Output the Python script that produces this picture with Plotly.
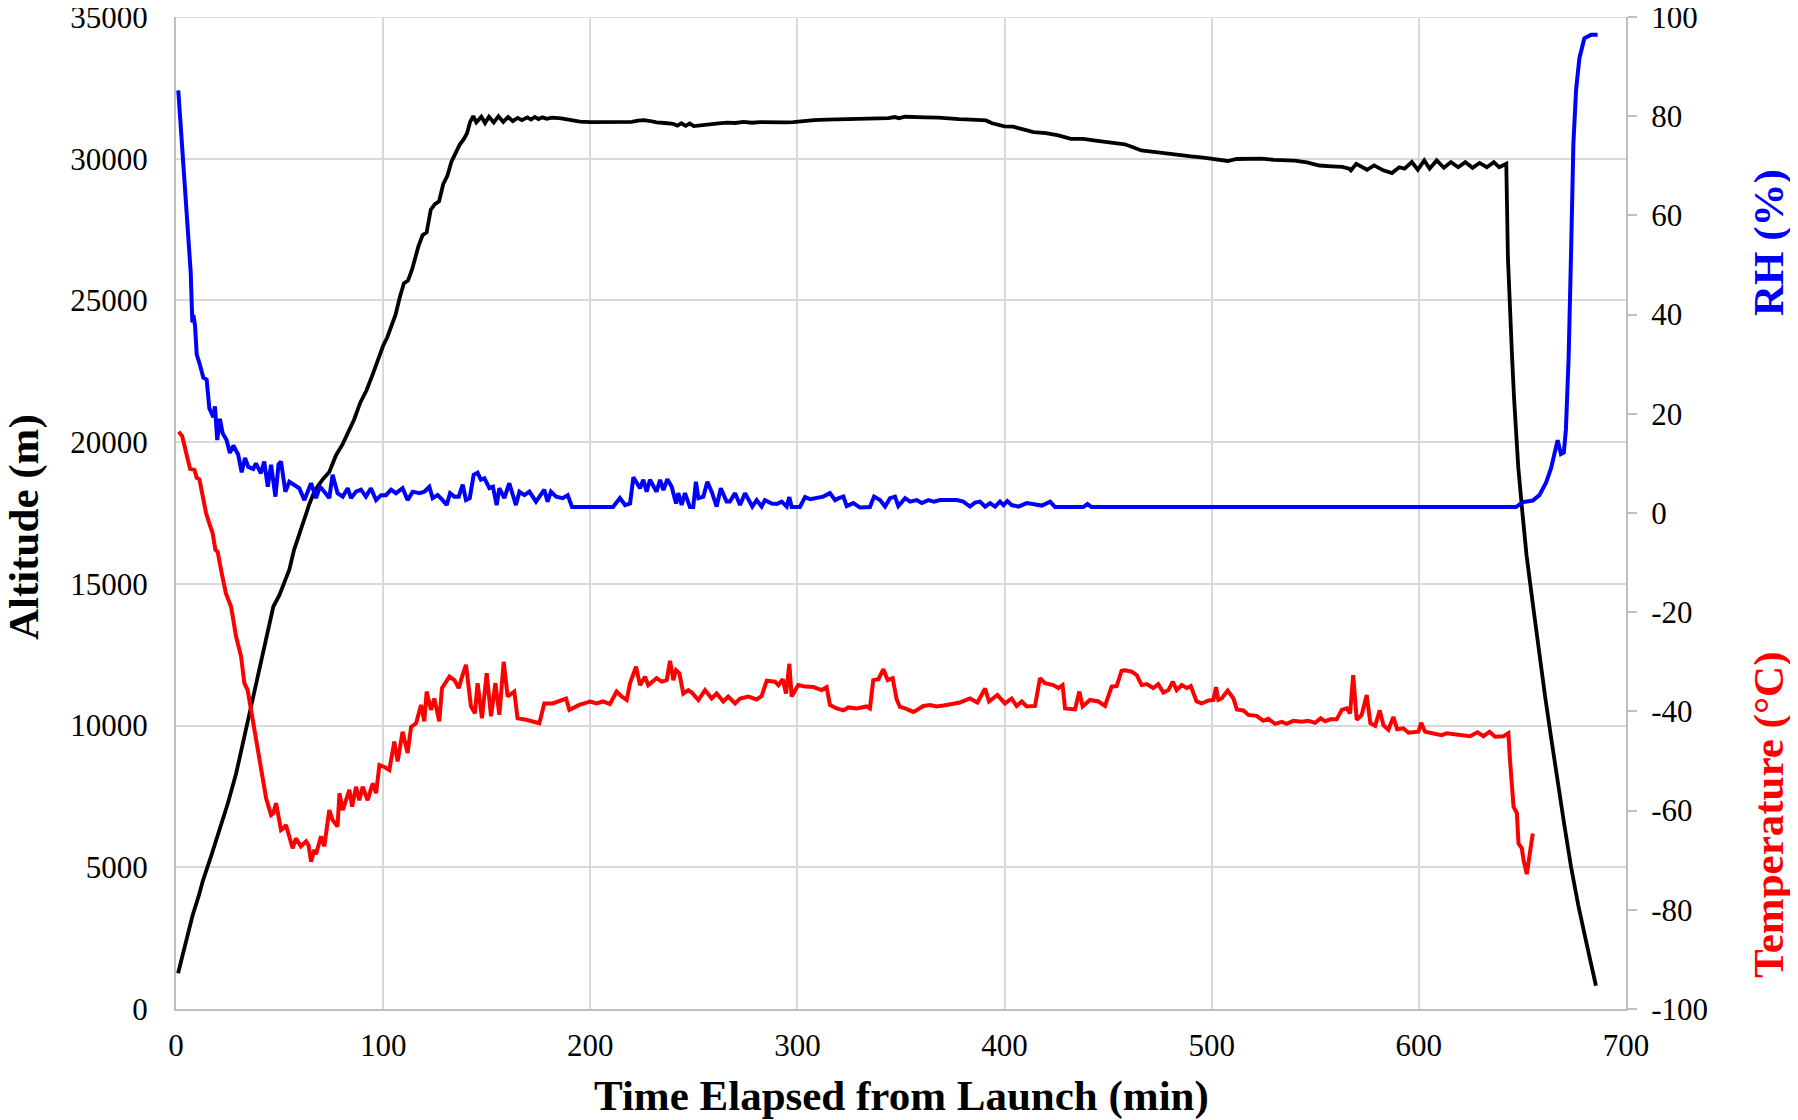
import plotly.graph_objects as go

# ---------------- data ----------------
alt_t = [1, 3, 5, 8, 11, 13, 17, 21, 25, 29, 32, 35.4, 38, 40.2, 43, 45.1, 47, 49.9, 52, 54.7,
         57, 59.5, 62, 64.4, 67, 69.2, 71, 74, 77.2, 80.5, 83.7, 86, 89, 92, 95, 98, 100, 102, 104, 106,
         108, 110, 112, 114, 117, 119, 121, 123, 125, 127, 129, 131, 133, 135, 137, 139, 140.5, 142, 143.5,
         145, 147.4, 149.2, 151.1, 153.4, 155.7, 158, 160.3, 162.6, 164.9, 167, 169.6, 171.4, 173.2, 175,
         176.9, 179, 181.5, 186, 190, 195, 200, 205, 210, 215, 220, 223, 226, 229, 232, 236, 240, 242, 244,
         246, 248, 250, 252, 255, 258, 262, 266, 270, 274, 278, 282, 286, 290, 294, 298, 302, 308, 314, 320,
         326, 332, 338, 344, 347, 349, 352, 356, 362, 368, 372, 378, 384, 388, 391, 394, 397, 400, 404, 408,
         414, 420, 426, 432, 438, 443, 449, 452, 455, 458, 461, 466, 472, 478, 484, 490, 496, 500, 504, 507.8,
         512, 518, 524, 530, 535, 540, 546, 552, 558, 563, 566.4, 567.2, 569.8, 575, 578.4, 582.8, 587, 590.5,
         593.1, 596.6, 599.5, 602.6, 605.2, 608.6, 612.1, 615.5, 619, 622.4, 625.9, 629.3, 632.8, 636.2, 638.8,
         642.2, 643, 644, 645, 646, 647, 648, 650, 652, 655, 658, 661, 664, 667, 670, 673.5, 677, 681, 685.5]
alt_m = [1260, 1850, 2450, 3300, 4000, 4530, 5400, 6300, 7250, 8300, 9300, 10400, 11300, 12060, 13000, 13700,
         14200, 14600, 15000, 15500, 16200, 16760, 17300, 17820, 18300, 18530, 18700, 18950, 19530, 19940, 20470,
         20800, 21400, 21830, 22400, 23000, 23400, 23700, 24150, 24500, 25100, 25600, 25700, 26100, 26900, 27300,
         27400, 28200, 28400, 28500, 29100, 29400, 29900, 30200, 30500, 30700, 30900, 31300, 31500,
         31280, 31480, 31260, 31480, 31280, 31500, 31300, 31470, 31330, 31440, 31360, 31460, 31380, 31470, 31400,
         31460, 31410, 31450, 31420, 31370, 31310, 31290, 31300, 31290, 31300, 31300, 31340, 31360, 31330, 31280,
         31260, 31230, 31170, 31250, 31160, 31240, 31150, 31170, 31190, 31230, 31250, 31270, 31260, 31300, 31270,
         31290, 31280, 31300, 31280, 31290, 31330, 31360, 31380, 31390, 31400, 31410, 31420, 31430, 31470, 31430,
         31480, 31460, 31460, 31450, 31420, 31400, 31380, 31370, 31350, 31250, 31180, 31140, 31130, 31060, 30940,
         30900, 30820, 30700, 30700, 30650, 30590, 30560, 30530, 30510, 30430, 30290, 30240, 30180, 30120, 30080,
         30040, 30000, 29970, 29920, 29990, 30000, 30000, 29960, 29940, 29930, 29870, 29760, 29730, 29710, 29650,
         29590, 29820, 29610, 29765, 29590, 29495, 29700, 29650, 29880, 29610, 29940, 29650, 29940, 29680, 29880,
         29700, 29880, 29680, 29850, 29700, 29880, 29700, 29820, 26500, 24500, 23000, 21500, 20200, 19100, 17500,
         16000, 14300, 12600, 11000, 9500, 8000, 6600, 5000, 3650, 2300, 820]

rh_t = [1.1, 2.7, 4.3, 5.9, 7.1, 7.9, 8.4, 9.2, 10, 11.6, 13.2, 14.8, 16.1, 18, 18.8, 19.9, 21.2, 22.5, 24.4, 26,
        27.7, 30, 31.7, 33.3, 34.9, 37.3, 38.6, 41, 42.6, 44.3, 45.9, 48, 49.5, 50.7, 52.8, 54.7, 57.1, 59.5, 62,
        65.2, 67.6, 69.5, 71.6, 74, 75.6, 78, 80.5, 82.9, 84.5, 86.9, 89.3, 91.7, 94.1, 96.6, 99, 101.4, 103.8,
        106.2, 109.4, 111.8, 114.3, 117.5, 119.9, 122.3, 123.9, 126.3, 128.7, 130.7, 132.3, 134.4, 136.5, 138.4,
        140, 141.8, 143.7, 145.6, 147.2, 148.9, 151.3, 153, 154.8, 156.1, 158.5, 160.9, 164.1, 165.8, 168.2, 170.6,
        173.8, 176.2, 177.8, 179.4, 181, 183.5, 186.7, 189.1, 191.2, 211, 214.3, 216.8, 219.2, 220.8, 222.4, 224,
        225.6, 227.2, 228.8, 230.4, 232, 233.7, 235.3, 237.2, 239.3, 241.4, 242.5, 244.1, 245.7, 248.1, 249.7, 251,
        252.2, 254.6, 256.5, 258.6, 261, 263, 265.8, 267.4, 269.9, 272.3, 274.7, 278.2, 280.3, 282.7, 284.3, 287.6,
        290, 292.4, 294.8, 296.1, 297.2, 301.2, 303.7, 306.1, 309, 312.5, 315.7, 318.2, 320, 322.2, 323.8, 327,
        330.2, 335, 337, 339.9, 342.3, 344.7, 347.1, 348.7, 352, 354.4, 357.6, 360, 363.2, 366, 368.8, 372.9, 376.9,
        380.1, 383.3, 385.7, 388.1, 390.6, 393, 395.4, 397.8, 399.5, 401.3, 403.4, 406.7, 410.7, 413.9, 418, 422,
        424.4, 438, 440, 442, 646.9, 650.2, 655, 658.2, 661.4, 663.8, 665.4, 667, 668.6, 670, 671, 672.3, 673.5,
        674.6, 675.9, 677.5, 679.9, 683.1, 686.3]
rh_pct = [85.2, 75.9, 67.2, 56.4, 48.5, 38.4, 39.9, 37.7, 32, 29.8, 27.3, 26.9, 21.1, 19.3, 21.5, 14.7, 19.0, 16.1,
          14.7, 12.1, 13.6, 11.8, 8.2, 11.1, 9.3, 8.9, 10.0, 8.0, 10.4, 5.3, 9.7, 3.3, 9.8, 10.4, 4.3, 6.3, 5.7, 5.0,
          2.6, 6.0, 3.0, 5.3, 4.3, 3.0, 7.7, 4.0, 3.3, 5.0, 3.0, 4.3, 4.7, 3.3, 5.0, 2.6, 3.6, 3.6, 4.7, 4.0, 5.0,
          2.6, 4.3, 4.0, 4.3, 5.3, 3.0, 3.6, 2.6, 1.6, 4.0, 3.3, 3.3, 5.7, 2.6, 3.0, 7.7, 8.1, 6.7, 7.0, 5.0, 5.3,
          1.6, 5.0, 3.0, 6.0, 1.6, 4.3, 3.6, 4.3, 2.3, 3.6, 4.7, 2.3, 4.3, 3.3, 3.0, 3.6, 1.2, 1.2, 3.0, 1.6, 1.9,
          7.2, 6.0, 5.0, 6.7, 4.3, 6.7, 5.3, 4.3, 6.7, 4.6, 6.8, 5.3, 1.9, 4.0, 1.6, 4.0, 1.2, 1.2, 6.3, 3.0, 3.3,
          6.3, 4.3, 1.3, 5.0, 2.3, 2.3, 4.0, 1.6, 4.0, 1.3, 2.6, 1.3, 2.6, 1.9, 1.8, 2.3, 1.3, 3.2, 1.2, 1.2, 3.2,
          2.8, 3.0, 3.3, 4.0, 2.6, 3.0, 3.3, 1.4, 2.0, 1.1, 1.2, 3.3, 2.6, 1.3, 3.0, 3.3, 1.4, 3.0, 2.3, 2.6, 2.0,
          2.6, 2.3, 2.6, 2.6, 2.6, 2.3, 1.3, 2.1, 2.3, 1.3, 2.0, 1.3, 2.3, 1.6, 2.4, 1.6, 1.3, 2.0, 1.8, 1.5, 2.3,
          1.2, 1.2, 1.8, 1.2, 1.2, 2.2, 2.5, 3.6, 6.1, 9.0, 11.9, 14.7, 11.9, 12.2, 16.9, 31.3, 52.9, 74.5, 85.3,
          91.7, 95.7, 96.4, 96.4]

temp_t = [1.3, 3, 5.1, 6.8, 8.9, 10, 11.3, 13.2, 14.5, 16, 17.7, 19, 20.1, 22, 24.1, 26.6, 29, 31.4, 33, 34.6, 37,
          39.4, 41.8, 43.5, 45.9, 47, 48.3, 50.7, 52, 53.1, 56.3, 57.9, 60.3, 62.8, 64, 65.2, 66.8, 67.6, 70, 71.6,
          74, 75.6, 78, 78.9, 80.5, 82.1, 83.7, 85, 86.9, 88.5, 90.1, 92.5, 95, 96.6, 98.2, 100.6, 103, 105.4, 107,
          109.4, 111.8, 113.5, 115.9, 118.3, 119.9, 121, 123.1, 124.7, 127.1, 128.4, 132, 134.4, 136.5, 138.1, 140,
          142.4, 144.3, 145.6, 147.7, 150, 152.1, 154.2, 156.1, 158.2, 160.1, 163.3, 164.9, 169, 173.8, 175.4, 177.8,
          181.8, 188.3, 189.9, 194.7, 199.9, 203.1, 206, 209.5, 212.7, 215.1, 217.6, 219.2, 222.1, 224, 226.4, 228,
          232, 234.5, 236.9, 238.5, 240.1, 241.4, 243, 244.9, 247.3, 249, 252.2, 255.4, 258.6, 261, 264.2, 266.6,
          269.9, 272.3, 276.3, 280.3, 282.7, 285.2, 289.2, 290.8, 292.9, 294.5, 296.1, 297.2, 300.4, 303.7, 307.7,
          311.7, 314.1, 315.7, 319, 322.2, 324.6, 328.6, 333.4, 335, 336.6, 339.1, 341.5, 343.6, 346, 347.9, 349.5,
          352, 356, 358.5, 360.8, 364, 367.2, 370.5, 375.3, 378.5, 383.3, 386.9, 390.6, 392.5, 396.5, 400.2, 403.4,
          405.8, 408.3, 410.7, 414.7, 417.1, 419.5, 423.5, 426, 428, 429.2, 434, 436.1, 437.7, 441.2, 445.3, 448.5,
          451.7, 454.1, 456.5, 458.1, 461.4, 463.8, 466.2, 468.6, 471.8, 474.2, 476.7, 479.1, 481.2, 483.1, 485.5,
          488, 489.9, 492.7, 495.2, 498.4, 500.8, 502.1, 503.2, 504.8, 507.7, 510.5, 512.1, 515.3, 517.7, 521.7,
          524.9, 527.3, 530.6, 533.8, 536.2, 539.4, 543.4, 546.7, 549.9, 552.6, 554.8, 557.1, 560.3, 562.8, 565.2,
          566.8, 568.3, 570, 572.4, 574.8, 576.6, 578.9, 581.1, 582.9, 585.3, 587.7, 589.5, 592.5, 595, 599.8, 601.1,
          603, 607, 611, 613.5, 617, 620.7, 624.7, 628.3, 631.2, 634.1, 636.8, 640.8, 643.2, 644, 645.7, 647.3,
          648.1, 649.7, 650.5, 652.1, 655]
temp_c = [16.4, 15.5, 11.8, 8.9, 8.7, 7.1, 6.8, 2.4, 0.0, -2.0, -4.1, -7.4, -7.8, -12.0, -16.2, -18.9, -24.9, -28.9,
          -34.3, -35.7, -41.7, -48.4, -53.8, -57.5, -60.9, -60.5, -58.5, -63.9, -63.5, -62.9, -67.6, -65.6, -67.2,
          -66.2, -67.0, -70.3, -67.9, -68.8, -65.2, -67.2, -59.9, -61.9, -63.2, -56.5, -59.9, -57.9, -55.8, -59.2,
          -55.2, -57.9, -55.2, -57.9, -54.5, -56.5, -50.8, -51.2, -51.8, -46.1, -50.1, -44.1, -48.4, -43.1, -42.4,
          -38.7, -42.0, -36.0, -39.7, -37.4, -42.0, -35.3, -33.0, -33.7, -35.3, -33.0, -30.6, -39.0, -40.4, -34.3,
          -41.4, -32.3, -41.0, -34.3, -40.7, -30.0, -37.0, -36.0, -41.4, -41.7, -42.1, -42.4, -38.4, -38.4, -37.4,
          -39.7, -38.7, -38.0, -38.4, -38.0, -38.5, -36.0, -37.0, -37.7, -34.3, -31.0, -34.7, -33.0, -34.7, -33.3,
          -34.0, -33.7, -29.8, -33.7, -31.7, -32.3, -36.4, -35.7, -36.2, -37.7, -35.7, -37.4, -36.4, -38.0, -37.0,
          -38.4, -37.4, -37.0, -37.6, -36.9, -33.8, -34.0, -34.7, -33.5, -36.4, -30.4, -37.0, -34.7, -35.0, -35.1,
          -35.7, -35.1, -38.7, -39.4, -39.8, -39.2, -39.4, -39.0, -39.4, -33.7, -33.5, -31.5, -33.7, -33.3, -37.6,
          -39.1, -39.4, -40.1, -39.5, -38.9, -38.7, -39.0, -38.8, -38.4, -38.2, -37.4, -38.2, -35.4, -38.0, -36.7,
          -38.4, -37.4, -38.9, -38.0, -39.0, -38.9, -33.3, -34.3, -34.7, -35.3, -34.7, -39.4, -39.6, -36.0, -39.0,
          -37.7, -38.0, -38.9, -35.0, -34.9, -31.8, -31.7, -32.0, -32.7, -34.7, -34.5, -35.3, -34.5, -36.2, -35.7,
          -34.0, -35.7, -34.7, -35.3, -34.9, -38.0, -38.4, -37.8, -37.7, -35.1, -37.7, -37.4, -35.8, -37.4, -39.6,
          -39.8, -40.7, -40.9, -41.9, -41.5, -42.5, -42.1, -42.5, -41.9, -42.1, -41.9, -42.3, -41.4, -42.0, -41.6,
          -41.6, -39.7, -39.4, -40.4, -32.7, -41.7, -40.7, -36.7, -42.4, -42.9, -39.8, -42.8, -43.7, -41.1, -43.6,
          -43.4, -44.3, -44.1, -42.3, -44.1, -44.4, -44.8, -44.4, -44.6, -44.8, -45.0, -44.2, -45.0, -44.1, -45.1,
          -45.0, -44.4, -49.8, -59.2, -60.5, -66.6, -67.6, -69.9, -72.8, -64.6]

x_ticks = [0, 100, 200, 300, 400, 500, 600, 700]
alt_ticks = [0, 5000, 10000, 15000, 20000, 25000, 30000, 35000]
right_ticks = [-100, -80, -60, -40, -20, 0, 20, 40, 60, 80, 100]

assert len(alt_t) == len(alt_m), (len(alt_t), len(alt_m))
assert len(rh_t) == len(rh_pct), (len(rh_t), len(rh_pct))
assert len(temp_t) == len(temp_c), (len(temp_t), len(temp_c))

# ---------------- figure ----------------
FONT = "Liberation Serif, Times New Roman, serif"
GRID = "#d9d9d9"
AXL = "#bfbfbf"

fig = go.Figure()
fig.add_trace(go.Scatter(x=alt_t, y=alt_m, mode="lines", name="Altitude",
                         line=dict(color="#000000", width=3.8), yaxis="y"))
fig.add_trace(go.Scatter(x=rh_t, y=rh_pct, mode="lines", name="RH",
                         line=dict(color="#0000ff", width=4), yaxis="y2"))
fig.add_trace(go.Scatter(x=temp_t, y=temp_c, mode="lines", name="Temperature",
                         line=dict(color="#ff0000", width=4), yaxis="y2"))

tickfont = dict(family=FONT, size=31, color="#000000")
# page body adds an 8px offset; figure is sized so the plot sits where the reference has it
fig.update_layout(
    width=1790, height=1112,
    margin=dict(l=168, r=172, t=9, b=111, autoexpand=False),
    paper_bgcolor="white", plot_bgcolor="white",
    showlegend=False,
    xaxis=dict(range=[0, 700], tickvals=x_ticks, ticktext=[str(v) for v in x_ticks],
               showgrid=True, gridcolor=GRID, gridwidth=1.5, zeroline=False,
               showline=True, linecolor=AXL, linewidth=2, ticks="", automargin=False,
               tickfont=tickfont, ticklabelstandoff=8, ticklabeloverflow="allow"),
    yaxis=dict(range=[0, 35000], tickvals=alt_ticks, ticktext=[str(v) for v in alt_ticks],
               showgrid=True, gridcolor=GRID, gridwidth=1.5, zeroline=False,
               showline=True, linecolor=AXL, linewidth=2, ticks="", automargin=False,
               tickfont=tickfont, ticklabelstandoff=20, ticklabeloverflow="allow"),
    yaxis2=dict(range=[-100, 100], tickvals=right_ticks, ticktext=[str(v) for v in right_ticks],
                overlaying="y", side="right", showgrid=False, zeroline=False,
                showline=True, linecolor=AXL, linewidth=2, automargin=False,
                ticks="outside", ticklen=9, tickwidth=2, tickcolor=AXL,
                tickfont=tickfont, ticklabelstandoff=8, ticklabeloverflow="allow"),
)

# top gridline (plotly drops gridlines that sit exactly on the plot edge)
fig.add_shape(type="line", xref="paper", x0=0, x1=1, yref="y", y0=alt_ticks[-1], y1=alt_ticks[-1],
              line=dict(color=GRID, width=1.5), layer="below")

TF = 43
fig.add_annotation(text="<b>Time Elapsed from Launch (min)</b>", xref="paper", yref="paper",
                   x=0.5, y=(1009 - 1096) / 992, xanchor="center", yanchor="middle",
                   showarrow=False, font=dict(family=FONT, size=TF, color="#000000"))
fig.add_annotation(text="<b>Altitude (m)</b>", xref="paper", yref="paper",
                   x=(24 - 176) / 1450, y=(1009 - 527) / 992, xanchor="center", yanchor="middle",
                   textangle=-90, showarrow=False, font=dict(family=FONT, size=TF, color="#000000"))
fig.add_annotation(text="<b>RH (%)</b>", xref="paper", yref="paper",
                   x=(1769 - 176) / 1450, y=(1009 - 243) / 992, xanchor="center", yanchor="middle",
                   textangle=-90, showarrow=False, font=dict(family=FONT, size=TF, color="#0000ff"))
fig.add_annotation(text="<b>Temperature (°C)</b>", xref="paper", yref="paper",
                   x=(1769 - 176) / 1450, y=(1009 - 815) / 992, xanchor="center", yanchor="middle",
                   textangle=-90, showarrow=False, font=dict(family=FONT, size=TF, color="#ff0000"))

fig.write_html("out.html")
